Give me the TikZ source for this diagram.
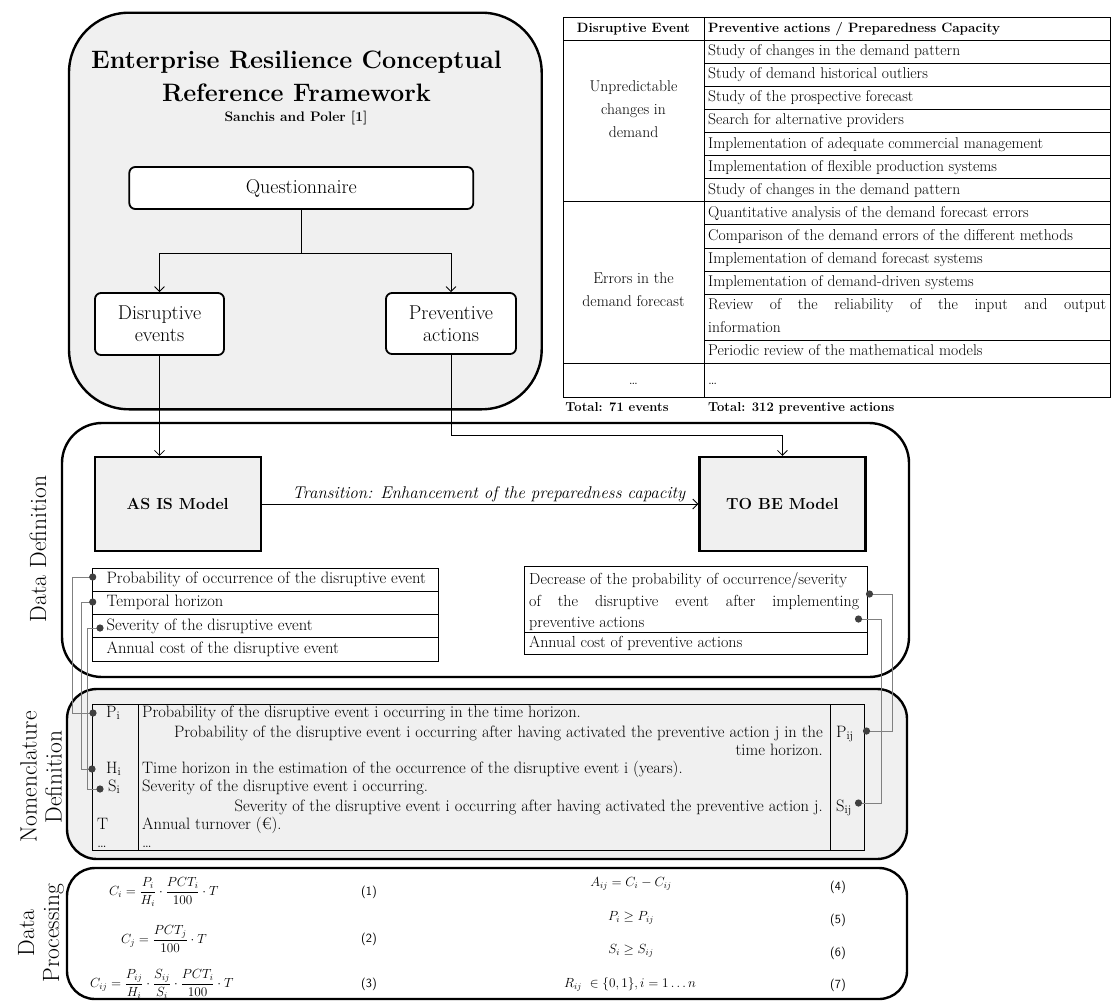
\documentclass[tikz,border=0pt]{standalone}
\usepackage{amsmath,amssymb}
\usepackage{xcolor}
\usepackage{tikz}
\usetikzlibrary{arrows.meta}
\definecolor{panelgray}{HTML}{F0F0F0}
\definecolor{linkgray}{HTML}{808080}
\definecolor{dotgray}{HTML}{404040}
\newcommand\fsz[2]{\fontsize{#1}{#2}\selectfont}
\newcommand\eqbox[1]{\scalebox{0.92}{$#1$}}
\tikzstyle{flowhead}=[>/.tip={Straight Barb[length=5pt,width=10pt]}]
\tikzstyle{flow}=[line width=.8pt,flowhead,->]
\tikzstyle{link}=[line width=.9pt,draw=linkgray]
\tikzstyle{panel}=[line width=2.4pt]
\tikzstyle{rowline}=[line width=1pt]
\tikzstyle{stepbox}=[draw,line width=1.8pt,rounded corners=6pt,fill=white,inner sep=0pt,align=center,font=\fsz{20}{22}]
\tikzstyle{model}=[draw,line width=2.2pt,fill=panelgray,minimum width=166pt,minimum height=94pt,font=\fsz{16}{19}\bfseries]
\tikzstyle{side}=[rotate=90,align=center,inner sep=0pt,font=\fsz{23.5}{25}]
\tikzstyle{txt}=[inner sep=0pt,anchor=west,text height=11pt,text depth=3pt,font=\fsz{15.6}{18}]
\tikzstyle{attr}=[txt,font=\fsz{16.5}{18}]
\tikzstyle{nom}=[txt,font=\fsz{16.5}{18}]
\tikzstyle{hdr}=[txt,font=\fsz{13.5}{16}\bfseries]
\tikzstyle{grp}=[inner sep=0pt,align=center,font=\fsz{15.6}{23}]
\tikzstyle{eqn}=[inner sep=0pt,anchor=west,font=\fsz{14}{16}]
\tikzstyle{eqno}=[inner sep=0pt,font=\fsz{12.5}{14}\sffamily]

\begin{document}
\begin{tikzpicture}[x=1pt,y=-1pt]
\useasboundingbox (0,0) rectangle (1113,1001);
% panels
\draw[panel,fill=panelgray,rounded corners=60pt] (69,12.7) rectangle (541.7,409.3);
\draw[panel,fill=white,rounded corners=40pt] (62,423) rectangle (909,677);
\draw[panel,fill=panelgray,rounded corners=30pt] (67,689) rectangle (907,859);
\draw[panel,fill=white,rounded corners=28pt] (67,868) rectangle (907,999);
\node[side] (lbl-def) at (38,549) {Data Definition};
\node[side] (lbl-nom) at (41,777) {Nomenclature\\Definition};
\node[side] (lbl-proc) at (41,933) {Data\\Processing};

% reference framework
\node[align=center,inner sep=0pt,font=\fsz{25.2}{33}\bfseries] (erf) at (296.5,76.5) {Enterprise Resilience Conceptual\\Reference Framework};
\node[inner sep=0pt,font=\fsz{13.8}{16}\bfseries] (erf-src) at (296,118) {Sanchis and Poler [1]};
\node[stepbox,minimum width=344pt,minimum height=42pt] (quest) at (301.3,188) {Questionnaire};
\node[stepbox,minimum width=129pt,minimum height=62pt] (dis) at (159.5,324) {Disruptive\\events};
\node[stepbox,minimum width=130pt,minimum height=61pt] (prev) at (451,323.5) {Preventive\\actions};
\draw[flow] (quest.south) -- ++(0,43) -| (dis.north);
\draw[flow] (quest.south) -- ++(0,43) -| (prev.north);

% table of events and actions
\draw[rowline] (563,17) rectangle (1110,397);
\draw[rowline] (704,17) -- (704,397);
\foreach \y in {40.1,201.8,363.5} \draw[rowline] (563,\y) -- (1110,\y);
\foreach \k in {1,...,6,8,9,10,11,13} \draw[rowline] (704,{40.1+23.1*\k}) -- (1110,{40.1+23.1*\k});
\node[hdr,anchor=center] (hd-ev) at (633.5,28.5) {Disruptive Event};
\node[hdr] (hd-pa) at (708,28.5) {Preventive actions / Preparedness Capacity};
\foreach \txt [count=\k] in {Study of changes in the demand pattern, Study of demand historical outliers, Study of the prospective forecast, Search for alternative providers, Implementation of adequate commercial management, Implementation of flexible production systems, Study of changes in the demand pattern, Quantitative analysis of the demand forecast errors, Comparison of the demand errors of the different methods, Implementation of demand forecast systems, Implementation of demand-driven systems, \makebox[398pt][s]{Review of the reliability of the input and output}, information, Periodic review of the mathematical models}
  \node[txt] (pa-\k) at (708,{28.55+23.1*\k}) {\txt};
\node[grp] (ev-1) at (633.5,109) {Unpredictable\\changes in\\demand};
\node[grp] (ev-2) at (633.5,290) {Errors in the\\demand forecast};
\node[txt,anchor=center] (ev-etc) at (633.5,380) {\dots};
\node[txt] (pa-etc) at (708,380) {\dots};
\node[hdr,anchor=center,font=\fsz{13}{15}\bfseries] (tot-ev) at (617,407) {Total: 71 events};
\node[hdr,font=\fsz{13}{15}\bfseries] (tot-pa) at (708,407) {Total: 312 preventive actions};

% data definition
\node[model] (asis) at (177.7,504) {AS IS Model};
\node[model] (tobe) at (782.4,504) {TO BE Model};
\draw[flow] (dis.south) -- (dis.south |- asis.north);
\draw[flow] (prev.south) -- ++(0,80) -| (tobe.north);
\draw[flow] (asis) -- node[pos=.52,above,inner sep=2pt,font=\fsz{17}{20}\itshape] (trans) {Transition: Enhancement of the preparedness capacity} (tobe);
\foreach \txt [count=\k] in {Probability of occurrence of the disruptive event, Temporal horizon, Severity of the disruptive event, Annual cost of the disruptive event}{
  \draw[rowline] (92.7,{544.75+23.25*\k}) rectangle (438.6,{568+23.25*\k});
  \node[attr] (asis-\k) at (106.4,{556.4+23.25*\k}) {\txt};
}
\draw[rowline] (524,566) rectangle (867,632);
\draw[rowline] (524,632) rectangle (867,654.5);
\node[attr,font=\fsz{16}{18}] (tobe-1a) at (529,580) {Decrease of the probability of occurrence/severity};
\node[attr,font=\fsz{16}{18}] (tobe-1b) at (529,602) {\makebox[330pt][s]{of the disruptive event after implementing}};
\node[attr,font=\fsz{16}{18}] (tobe-1c) at (529,623) {preventive actions};
\node[attr,font=\fsz{16}{18}] (tobe-2) at (529,643.5) {Annual cost of preventive actions};

% nomenclature
\draw[rowline,fill=panelgray] (92,704) rectangle (864,850);
\draw[rowline] (138,704) -- (138,850);
\draw[rowline] (830,704) -- (830,850);
\node[nom] (sym-P) at (106,713) {P\textsubscript{i}};
\node[nom] (def-P) at (142,713) {Probability of the disruptive event i occurring in the time horizon.};
\node[nom,anchor=east] (def-Pij) at (823,733) {Probability of the disruptive event i occurring after having activated the preventive action j in the};
\node[nom,anchor=east] (def-Pij2) at (823,751) {time horizon.};
\node[nom] (sym-H) at (106,769) {H\textsubscript{i}};
\node[nom] (def-H) at (142,769) {Time horizon in the estimation of the occurrence of the disruptive event i (years).};
\node[nom] (sym-S) at (108,787) {S\textsubscript{i}};
\node[nom] (def-S) at (142,787) {Severity of the disruptive event i occurring.};
\node[nom,anchor=east] (def-Sij) at (823,807) {Severity of the disruptive event i occurring after having activated the preventive action j.};
\node[nom] (sym-T) at (97,825) {T};
\node[nom] (def-T) at (142,825) {Annual turnover (€).};
\node[nom] (sym-etc) at (97,843) {\dots};
\node[nom] (def-etc) at (142,843) {\dots};
\node[nom] (sym-Pij) at (836,733) {P\textsubscript{ij}};
\node[nom] (sym-Sij) at (836,807) {S\textsubscript{ij}};

% data processing
\node[eqn] (eq1) at (109,892) {\eqbox{C_i=\dfrac{P_i}{H_i}\cdot\dfrac{PCT_i}{100}\cdot T}};
\node[eqn] (eq2) at (121,939) {\eqbox{C_j=\dfrac{PCT_j}{100}\cdot T}};
\node[eqn] (eq3) at (90,984) {\eqbox{C_{ij}=\dfrac{P_{ij}}{H_i}\cdot\dfrac{S_{ij}}{S_i}\cdot\dfrac{PCT_i}{100}\cdot T}};
\node[eqn,anchor=center] (eq4) at (631,884) {\eqbox{A_{ij}=C_i-C_{ij}}};
\node[eqn,anchor=center] (eq5) at (631,918) {\eqbox{P_i\geq P_{ij}}};
\node[eqn,anchor=center] (eq6) at (631,951) {\eqbox{S_i\geq S_{ij}}};
\node[eqn] (eq7) at (564,984) {\eqbox{R_{ij}\ \in\{0,1\}, i=1\ldots n}};
\foreach \n/\y in {1/892,2/939,3/984} \node[eqno] (no\n) at (369,\y) {(\n)};
\foreach \n/\y in {4/887,5/920,6/953,7/985} \node[eqno] (no\n) at (838,\y) {(\n)};

% links between data and symbols
\coordinate (dP) at (92.7,577);
\coordinate (dH) at (92.7,602);
\coordinate (dS) at (100,628);
\coordinate (nP) at (93,713);
\coordinate (nH) at (92,769);
\coordinate (nS) at (100,789);
\coordinate (dPij) at (869.5,594);
\coordinate (dSij) at (858.5,619);
\coordinate (nPij) at (866.5,731);
\coordinate (nSij) at (858.5,803);
\draw[link] (dP) -- ++(-20.5,0) |- (nP);
\draw[link] (dH) -- ++(-11.7,0) |- (nH);
\draw[link] (dS) -- ++(-12.7,0) |- (nS);
\draw[link] (dPij) -- ++(22.5,0) |- (nPij);
\draw[link] (dSij) -- ++(22.5,0) |- (nSij);
\foreach \d in {dP,dH,dS,nP,nH,nS,dPij,dSij,nPij,nSij} \fill[dotgray] (\d) circle (3.6pt);
\end{tikzpicture}
\end{document}
